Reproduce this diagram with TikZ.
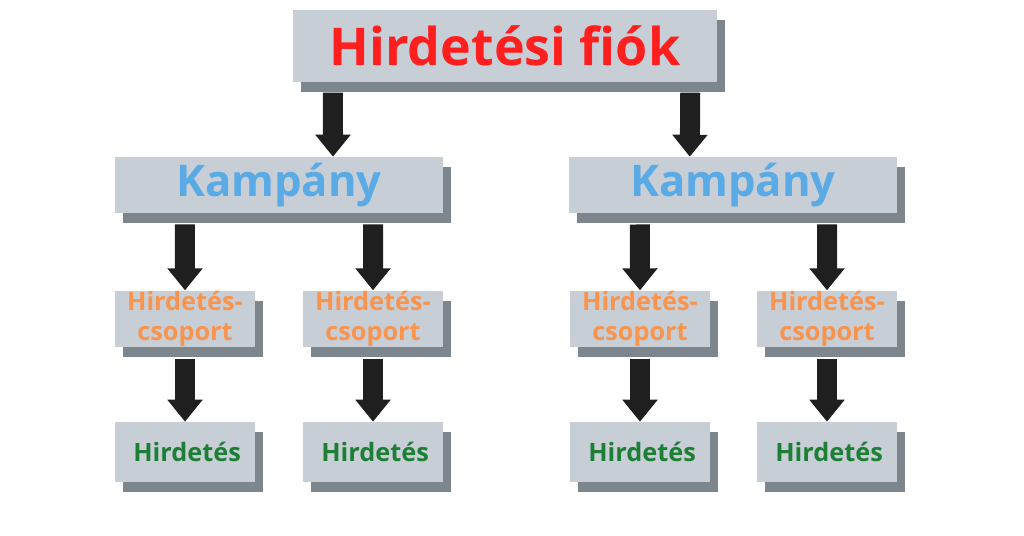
\documentclass[tikz,border=0pt]{standalone}
\usepackage{fontspec}
\setmainfont{Open Sans}
\usetikzlibrary{arrows.meta,positioning,shadows}
\definecolor{boxgray}{HTML}{C8CED6}
\definecolor{shadegray}{HTML}{7D858D}
\definecolor{acctred}{HTML}{FF1F1F}
\definecolor{campblue}{HTML}{5AAAE6}
\definecolor{grporange}{HTML}{F8944E}
\definecolor{adgreen}{HTML}{1C7F35}
\tikzset{
  box/.style={fill=boxgray, inner sep=0pt, font=\bfseries,
    drop shadow={shadow xshift=0.2cm, shadow yshift=-0.25cm, fill=shadegray, opacity=1}},
  blk/.style={line width=0.5cm, draw=black!88, -{Triangle[width=0.85cm,length=0.55cm]}}
}
\begin{document}
\begin{tikzpicture}[x=0.025cm,y=-0.025cm]
\useasboundingbox (0,0) rectangle (1024,536);

% Top level
\node[box, minimum width=10.6cm, minimum height=1.82cm, text=acctred,
  font=\bfseries\fontsize{37}{40}\selectfont] (acct) at (505,46) {Hirdetési fiók};

% Campaigns
\node[box, minimum width=8.2cm, minimum height=1.4cm, text=campblue,
  font=\bfseries\fontsize{31}{34}\selectfont] (campL) at (279,185) {Kampány};
\node[box, minimum width=8.2cm, minimum height=1.4cm, text=campblue,
  font=\bfseries\fontsize{31}{34}\selectfont] (campR) at (733,185) {Kampány};

% Ad groups and ads
\foreach \n/\x in {a/185,b/373,c/640,d/827}{
  \node[box, minimum width=3.5cm, minimum height=1.42cm, text=grporange, align=center,
    font=\bfseries\fontsize{18}{21}\selectfont] (grp\n) at (\x,319) {Hirdetés-\\csoport};
  \node[box, minimum width=3.5cm, minimum height=1.5cm, text=adgreen,
    font=\bfseries\fontsize{18}{21}\selectfont] (ad\n) at (\x,452) {\,Hirdetés};
  \draw[blk] ([yshift=-0.28cm]grp\n.south) -- (ad\n.north);
}

% Arrows
\draw[blk] ([xshift=-4.3cm,yshift=-0.25cm]acct.south) -- ([xshift=1.35cm]campL.north);
\draw[blk] ([xshift=4.63cm,yshift=-0.25cm]acct.south) -- ([xshift=-1.08cm]campR.north);
\draw[blk] ([xshift=-2.35cm,yshift=-0.28cm]campL.south) -- (grpa.north);
\draw[blk] ([xshift=2.35cm,yshift=-0.28cm]campL.south) -- (grpb.north);
\draw[blk] ([xshift=-2.33cm,yshift=-0.28cm]campR.south) -- (grpc.north);
\draw[blk] ([xshift=2.35cm,yshift=-0.28cm]campR.south) -- (grpd.north);
\end{tikzpicture}
\end{document}
